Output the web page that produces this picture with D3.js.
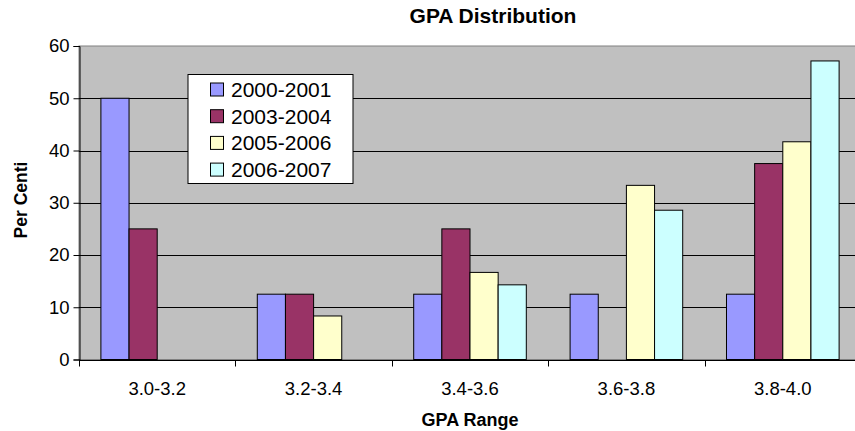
<!DOCTYPE html>
<html>
<head>
<meta charset="utf-8">
<script src="https://cdn.jsdelivr.net/npm/d3@7"></script>
<style>
  body { margin: 0; background: #fff; }
  svg { display: block; overflow: hidden; }
  text { font-family: Arial, "Liberation Sans", sans-serif; fill: #000; }
</style>
</head>
<body>
<div id="chart"></div>
<script>
var categories = ["3.0-3.2", "3.2-3.4", "3.4-3.6", "3.6-3.8", "3.8-4.0"];
var seriesNames = ["2000-2001", "2003-2004", "2005-2006", "2006-2007"];
var s2000 = [50, 12.5, 12.5, 12.5, 12.5];
var s2003 = [25, 12.5, 25, 0, 37.5];
var s2005 = [0, 8.33, 16.67, 33.33, 41.67];
var s2006 = [0, 0, 14.29, 28.57, 57.14];
var yTicks = [0, 10, 20, 30, 40, 50, 60];
var colors = ["#9999FF", "#993366", "#FFFFCC", "#CCFFFF"];

var w = 855, h = 431;
var plotL = 79, plotT = 46, plotB = 359.5, plotR = 861; // plot runs past the right edge, as in the original

var series = [s2000, s2003, s2005, s2006];

var svg = d3.select("#chart").append("svg")
    .attr("width", w)
    .attr("height", h);

var x0 = d3.scaleBand().domain(categories).range([plotL, plotR]);
var pad = x0.bandwidth() * 0.14;
var x1 = d3.scaleBand().domain(seriesNames).range([pad, x0.bandwidth() - pad]);
var y = d3.scaleLinear().domain([0, 60]).range([plotB, plotT]);

// plot background
svg.append("rect")
    .attr("x", plotL).attr("y", plotT)
    .attr("width", plotR - plotL).attr("height", plotB - plotT)
    .attr("fill", "#C0C0C0")
    .attr("stroke", "#808080")
    .attr("stroke-width", 1);

// gridlines
svg.append("g").selectAll("line")
    .data(yTicks.filter(d => d > 0 && d < 60))
    .enter().append("line")
    .attr("x1", plotL).attr("x2", plotR)
    .attr("y1", d => Math.round(y(d)) + 0.5)
    .attr("y2", d => Math.round(y(d)) + 0.5)
    .attr("stroke", "#000");

// bars
var groups = svg.append("g").selectAll("g")
    .data(categories)
    .enter().append("g")
    .attr("transform", d => "translate(" + x0(d) + ",0)");

groups.selectAll("rect")
    .data((c, i) => seriesNames.map((s, j) => ({ s: s, j: j, v: series[j][i] })).filter(d => d.v > 0))
    .enter().append("rect")
    .attr("x", d => x1(d.s))
    .attr("y", d => y(d.v))
    .attr("width", x1.bandwidth())
    .attr("height", d => y(0) - y(d.v))
    .attr("fill", d => colors[d.j])
    .attr("stroke", "#000")
    .attr("stroke-width", 1);

// y axis
var yAxis = d3.axisLeft(y).tickValues(yTicks).tickSize(6).tickPadding(4);
var gy = svg.append("g")
    .attr("transform", "translate(" + (plotL + 0.5) + ",0)")
    .call(yAxis);
gy.attr("font-family", null);
gy.selectAll("text").style("font-size", "18.5px");

// x axis
var gx = svg.append("g")
    .attr("transform", "translate(0," + (Math.round(plotB) + 0.5) + ")");
gx.append("line")
    .attr("x1", plotL).attr("x2", plotR)
    .attr("stroke", "#000");
gx.selectAll("line.tk")
    .data(categories.concat(["end"]))
    .enter().append("line")
    .attr("class", "tk")
    .attr("x1", (d, i) => Math.round(plotL + i * x0.step()) + 0.5)
    .attr("x2", (d, i) => Math.round(plotL + i * x0.step()) + 0.5)
    .attr("y1", 0).attr("y2", 6)
    .attr("stroke", "#000");
gx.selectAll("text")
    .data(categories)
    .enter().append("text")
    .attr("x", d => x0(d) + x0.bandwidth() / 2)
    .attr("y", 34)
    .attr("text-anchor", "middle")
    .style("font-size", "18.5px")
    .text(d => d);

svg.selectAll(".domain").attr("stroke", "#000");
svg.selectAll(".tick line").attr("stroke", "#000");

// titles
svg.append("text")
    .attr("x", 493).attr("y", 23)
    .attr("text-anchor", "middle")
    .style("font-size", "21px")
    .style("font-weight", "bold")
    .text("GPA Distribution");

svg.append("text")
    .attr("x", 470).attr("y", 426)
    .attr("text-anchor", "middle")
    .style("font-size", "18px")
    .style("font-weight", "bold")
    .text("GPA Range");

svg.append("text")
    .attr("transform", "translate(27,200) rotate(-90)")
    .attr("text-anchor", "middle")
    .style("font-size", "17.5px")
    .style("font-weight", "bold")
    .text("Per Centi");

// legend
var lg = svg.append("g").attr("transform", "translate(188,74.5)");
lg.append("rect")
    .attr("width", 165).attr("height", 109)
    .attr("fill", "#fff")
    .attr("stroke", "#000");
var items = lg.selectAll("g.item")
    .data(seriesNames)
    .enter().append("g")
    .attr("class", "item")
    .attr("transform", (d, i) => "translate(0," + (15 + i * 26.7) + ")");
items.append("rect")
    .attr("x", 22.5).attr("y", -6.5)
    .attr("width", 13).attr("height", 13)
    .attr("fill", (d, i) => colors[i])
    .attr("stroke", "#000");
items.append("text")
    .attr("x", 43).attr("y", 7.5)
    .style("font-size", "21px")
    .text(d => d);
</script>
</body>
</html>
